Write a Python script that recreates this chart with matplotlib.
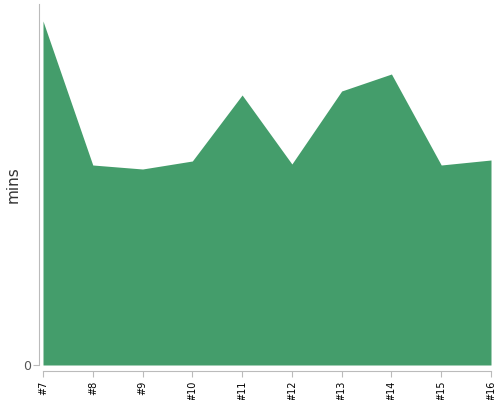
import matplotlib
matplotlib.use("Agg")
import matplotlib.pyplot as plt

# data
labels = ["#7", "#8", "#9", "#10", "#11", "#12", "#13", "#14", "#15", "#16"]
mins = [34.4, 20.0, 19.6, 20.4, 27.0, 20.1, 27.4, 29.1, 20.0, 20.5]

fig = plt.figure(figsize=(5, 4), dpi=100)
ax = fig.add_axes([43 / 500, 35 / 400, 448 / 500, 361 / 400])

x = list(range(len(labels)))
ax.fill_between(x, mins, 0, color="#449d6b", linewidth=0)

# axes styling
for s in ["top", "right"]:
    ax.spines[s].set_visible(False)
ax.spines["left"].set_position(("outward", 3))
ax.spines["bottom"].set_position(("outward", 4))
ax.spines["left"].set_color("#bbbbbb")
ax.spines["bottom"].set_color("#bbbbbb")
ax.tick_params(axis="both", color="#bbbbbb", length=4)
ax.tick_params(axis="x", labelrotation=90, labelsize=7, pad=3)
ax.tick_params(axis="y", labelsize=9, labelcolor="#555555", pad=1.5)

ax.set_xlim(0, len(labels) - 1)
ax.set_ylim(0, 36.1)
ax.set_xticks(x, labels)
ax.set_yticks([0], ["0"])
ax.set_ylabel("mins", fontsize=11, color="#333333")
ax.yaxis.set_label_coords(-0.05, 0.5)

fig.savefig("out.png", dpi=100)
